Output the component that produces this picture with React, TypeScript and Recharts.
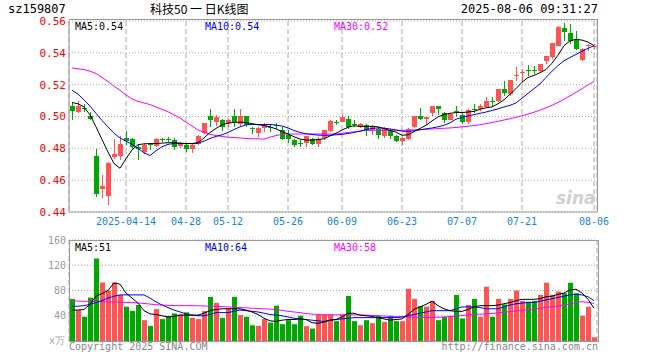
import React from "react";
import { ComposedChart, Bar, Line, XAxis, YAxis, CartesianGrid, Cell } from "recharts";

const RED = "#ff5454";
const GREEN = "#00a800";
const MONO = "'DejaVu Sans Mono', monospace";

const dates = [
  "2025-03-31", "2025-04-01", "2025-04-02", "2025-04-03", "2025-04-07", "2025-04-08", "2025-04-09", "2025-04-10", "2025-04-11",
  "2025-04-14", "2025-04-15", "2025-04-16", "2025-04-17", "2025-04-18", "2025-04-21", "2025-04-22", "2025-04-23", "2025-04-24", "2025-04-25",
  "2025-04-28", "2025-04-29", "2025-04-30", "2025-05-06", "2025-05-07", "2025-05-08", "2025-05-09",
  "2025-05-12", "2025-05-13", "2025-05-14", "2025-05-15", "2025-05-16", "2025-05-19", "2025-05-20", "2025-05-21", "2025-05-22", "2025-05-23",
  "2025-05-26", "2025-05-27", "2025-05-28", "2025-05-29", "2025-05-30", "2025-06-03", "2025-06-04", "2025-06-05", "2025-06-06",
  "2025-06-09", "2025-06-10", "2025-06-11", "2025-06-12", "2025-06-13", "2025-06-16", "2025-06-17", "2025-06-18", "2025-06-19", "2025-06-20",
  "2025-06-23", "2025-06-24", "2025-06-25", "2025-06-26", "2025-06-27", "2025-06-30", "2025-07-01", "2025-07-02", "2025-07-03", "2025-07-04",
  "2025-07-07", "2025-07-08", "2025-07-09", "2025-07-10", "2025-07-11", "2025-07-14", "2025-07-15", "2025-07-16", "2025-07-17", "2025-07-18",
  "2025-07-21", "2025-07-22", "2025-07-23", "2025-07-24", "2025-07-25", "2025-07-28", "2025-07-29", "2025-07-30", "2025-07-31", "2025-08-01",
  "2025-08-04", "2025-08-05", "2025-08-06",
];

const tickDates = [
  "2025-04-14", "2025-04-28", "2025-05-12", "2025-05-26", "2025-06-09",
  "2025-06-23", "2025-07-07", "2025-07-21", "2025-08-06",
];

const opens = [
  0.5063, 0.5031, 0.5055, 0.5005, 0.475, 0.4548, 0.4502, 0.4746, 0.4752, 0.4865,
  0.4856, 0.481, 0.4775, 0.4825, 0.4819, 0.4858, 0.4858, 0.4854, 0.4815, 0.4823,
  0.4794, 0.4825, 0.4895, 0.5002, 0.4965, 0.4981, 0.4958, 0.5002, 0.495, 0.5002,
  0.4928, 0.4896, 0.4925, 0.4931, 0.4944, 0.4917, 0.4881, 0.4854, 0.4832, 0.483,
  0.486, 0.483, 0.486, 0.4908, 0.4967, 0.4971, 0.4985, 0.4952, 0.4935, 0.4944,
  0.4913, 0.4923, 0.4881, 0.4906, 0.4877, 0.4844, 0.486, 0.4933, 0.5002, 0.4981,
  0.5017, 0.5063, 0.5023, 0.4981, 0.5033, 0.5012, 0.4965, 0.505, 0.5048, 0.5063,
  0.5098, 0.51, 0.5173, 0.5138, 0.5254, 0.5275, 0.5294, 0.5292, 0.5283, 0.5344,
  0.5371, 0.5444, 0.5558, 0.5523, 0.5481, 0.536, 0.5446, 0.5442,
];
const highs = [
  0.5086, 0.5098, 0.508, 0.503, 0.4798, 0.4635, 0.4712, 0.486, 0.488, 0.4906,
  0.4865, 0.483, 0.4832, 0.483, 0.4865, 0.4868, 0.487, 0.4862, 0.4842, 0.4833,
  0.4833, 0.4882, 0.496, 0.5046, 0.501, 0.4986, 0.4983, 0.5044, 0.5044, 0.5002,
  0.4935, 0.4931, 0.4958, 0.4956, 0.4958, 0.4933, 0.4913, 0.486, 0.4854, 0.4877,
  0.4867, 0.4873, 0.4917, 0.4979, 0.4979, 0.5017, 0.5006, 0.4981, 0.4958, 0.4954,
  0.4944, 0.4933, 0.4933, 0.4923, 0.4883, 0.4869, 0.4929, 0.5004, 0.5052, 0.5,
  0.5065, 0.5065, 0.5031, 0.5023, 0.5065, 0.5027, 0.5044, 0.5079, 0.5079, 0.5125,
  0.5123, 0.5175, 0.5225, 0.5231, 0.5313, 0.5292, 0.5325, 0.5319, 0.5331, 0.5379,
  0.5462, 0.5567, 0.5585, 0.5579, 0.5538, 0.5429, 0.5456, 0.5454,
];
const lows = [
  0.4981, 0.5023, 0.5027, 0.4978, 0.4496, 0.4489, 0.4444, 0.4735, 0.4725, 0.482,
  0.479, 0.4725, 0.4765, 0.4788, 0.481, 0.4838, 0.484, 0.4792, 0.48, 0.4777,
  0.4771, 0.4822, 0.489, 0.4935, 0.494, 0.4908, 0.4935, 0.4933, 0.4933, 0.4937,
  0.4892, 0.4871, 0.4902, 0.4902, 0.4923, 0.485, 0.4833, 0.4808, 0.4808, 0.4808,
  0.482, 0.4808, 0.4854, 0.4902, 0.4944, 0.4965, 0.4923, 0.4935, 0.4925, 0.4877,
  0.4883, 0.4856, 0.4865, 0.4856, 0.4838, 0.4819, 0.4854, 0.4929, 0.4975, 0.4948,
  0.5006, 0.5012, 0.4961, 0.4975, 0.4996, 0.495, 0.4954, 0.5021, 0.5035, 0.5058,
  0.5067, 0.5094, 0.5131, 0.5131, 0.5225, 0.5215, 0.5256, 0.5267, 0.5277, 0.5329,
  0.5363, 0.544, 0.5475, 0.5454, 0.5419, 0.535, 0.541, 0.5423,
];
const closes = [
  0.5033, 0.5069, 0.505, 0.4985, 0.4513, 0.4565, 0.4708, 0.4763, 0.4825, 0.4846,
  0.4808, 0.48, 0.4822, 0.482, 0.486, 0.4852, 0.4852, 0.4808, 0.4833, 0.4798,
  0.4819, 0.4875, 0.4958, 0.4975, 0.4996, 0.4937, 0.4975, 0.4965, 0.5002, 0.4945,
  0.4923, 0.4929, 0.4944, 0.4927, 0.4938, 0.4858, 0.4856, 0.4825, 0.4828, 0.4875,
  0.483, 0.486, 0.4913, 0.497, 0.4963, 0.5, 0.4935, 0.4948, 0.4954, 0.4913,
  0.4933, 0.4885, 0.4923, 0.4877, 0.4844, 0.4865, 0.4923, 0.5002, 0.4981, 0.4996,
  0.5063, 0.5044, 0.4981, 0.5017, 0.5029, 0.4965, 0.5042, 0.5046, 0.5069, 0.51,
  0.5094, 0.5173, 0.5148, 0.5229, 0.5258, 0.5279, 0.529, 0.5286, 0.5329, 0.5377,
  0.546, 0.5565, 0.5531, 0.5475, 0.5423, 0.5427, 0.545, 0.5446,
];

const ma5 = [
  0.5088, 0.508, 0.506, 0.501, 0.4935, 0.4855, 0.4777, 0.4705, 0.4675, 0.4735,
  0.479, 0.4823, 0.4828, 0.483, 0.483, 0.4833, 0.4835, 0.4835, 0.4833, 0.483,
  0.483, 0.4835, 0.4865, 0.49, 0.4925, 0.4948, 0.4958, 0.4963, 0.4965, 0.4962,
  0.4955, 0.4948, 0.4944, 0.4935, 0.4922, 0.4905, 0.489, 0.4873, 0.4858, 0.4852,
  0.4852, 0.4855, 0.486, 0.4878, 0.4895, 0.4915, 0.4932, 0.4942, 0.4938, 0.4938,
  0.4938, 0.4935, 0.4925, 0.4912, 0.4902, 0.4882, 0.4885, 0.4905, 0.4925, 0.4945,
  0.4972, 0.4998, 0.5012, 0.502, 0.5025, 0.5025, 0.5028, 0.5032, 0.5045, 0.5055,
  0.506, 0.508, 0.5105, 0.514, 0.5175, 0.5215, 0.5245, 0.5258, 0.5275, 0.5295,
  0.5335, 0.5385, 0.5445, 0.5475, 0.5485, 0.548, 0.5468, 0.5445,
];
const ma10 = [
  0.5165, 0.514, 0.5105, 0.5065, 0.502, 0.4975, 0.4935, 0.4895, 0.4865, 0.4845,
  0.4825, 0.48, 0.4772, 0.4755, 0.4785, 0.481, 0.4825, 0.483, 0.483, 0.483,
  0.483, 0.4832, 0.4845, 0.4862, 0.4875, 0.4885, 0.49, 0.4918, 0.4935, 0.4948,
  0.495, 0.495, 0.495, 0.495, 0.4946, 0.494, 0.4928, 0.4912, 0.49, 0.4892,
  0.4887, 0.4883, 0.4882, 0.4882, 0.4885, 0.4888, 0.4893, 0.49, 0.4908, 0.4918,
  0.4925, 0.4928, 0.4926, 0.4922, 0.4915, 0.4908, 0.4906, 0.491, 0.4916, 0.4922,
  0.4928, 0.4935, 0.4945, 0.496, 0.4983, 0.4995, 0.5003, 0.5012, 0.502, 0.5028,
  0.5038, 0.5048, 0.506, 0.507, 0.5085, 0.5115, 0.5145, 0.5175, 0.5205, 0.5245,
  0.5285, 0.532, 0.535, 0.5371, 0.539, 0.541, 0.5428, 0.5445,
];
const ma30 = [
  0.5305, 0.53, 0.5295, 0.5285, 0.527, 0.5245, 0.522, 0.519, 0.5165, 0.5135,
  0.511, 0.5095, 0.5085, 0.5075, 0.506, 0.5045, 0.503, 0.501, 0.499, 0.4965,
  0.494, 0.4915, 0.49, 0.4888, 0.488, 0.4875, 0.487, 0.4868, 0.4865, 0.4862,
  0.486, 0.486, 0.4858, 0.487, 0.488, 0.4888, 0.489, 0.489, 0.489, 0.489,
  0.489, 0.489, 0.489, 0.489, 0.489, 0.4895, 0.49, 0.4903, 0.4908, 0.4912,
  0.4913, 0.4913, 0.4913, 0.4913, 0.4913, 0.4913, 0.4914, 0.4916, 0.4918, 0.492,
  0.4922, 0.4924, 0.4926, 0.4928, 0.4931, 0.4935, 0.4939, 0.4943, 0.4948, 0.4955,
  0.4962, 0.497, 0.4978, 0.4986, 0.4995, 0.5005, 0.5015, 0.5027, 0.504, 0.5055,
  0.507, 0.5088, 0.5108, 0.513, 0.5152, 0.5175, 0.5198, 0.522,
];

// 成交量 (万)
const volumes = [
  66.7, 49, 38.4, 68.8, 130.7, 92.8, 80, 92.8, 73, 54.4,
  47.5, 57, 33, 24, 50.7, 34.7, 39.5, 43.7, 42, 45.3,
  36.8, 34.7, 47.5, 69.9, 60.3, 36.8, 51.7, 69.9, 41, 38.4,
  25, 24, 34.7, 29.3, 56, 26.7, 33, 26.7, 40, 23.5,
  19.7, 41, 42, 42, 31.5, 42, 71.5, 31.5, 25, 33,
  28.3, 40, 30.4, 40, 31.5, 31.5, 82.7, 66.7, 55.5, 54.4,
  63.5, 33, 38.4, 40, 73, 35.7, 57, 66.7, 38.4, 85.9,
  38.4, 66.7, 58, 66.7, 80, 63.5, 62.4, 63.5, 73, 92.3,
  73, 78.4, 75.7, 92.3, 75.7, 40, 54.4, 5.9,
];
const volMa5 = [
  49, 49, 50, 58, 71, 75, 80, 92, 90, 76,
  68, 60, 48, 43, 42, 40, 38, 39, 41, 41,
  41, 41, 44, 48, 50, 51, 51, 51, 51, 49,
  46, 42, 36, 32, 31, 33, 34, 34, 35, 34,
  29, 28, 30, 33, 34, 38, 44, 44, 41, 40,
  39, 37, 35, 33, 34, 35, 42, 50, 54, 58,
  63, 56, 51, 48, 47, 47, 50, 54, 56, 56,
  56, 57, 59, 61, 64, 66, 66, 66, 67, 70,
  71, 74, 76, 81, 82, 76, 66, 52,
];
const volMa10 = [
  55, 55, 56, 58, 61, 64, 68, 71, 73, 73,
  73, 73, 73, 68, 62, 57, 53, 49, 46, 43,
  41, 40, 40, 42, 45, 45, 45, 47, 49, 48,
  47, 46, 44, 42, 41, 40, 38, 36, 35, 34,
  33, 32, 31, 33, 34, 35, 36, 37, 37, 37,
  37, 37, 37, 37, 37, 38, 40, 42, 44, 46,
  48, 48, 48, 48, 51, 54, 54, 54, 53, 51,
  51, 51, 54, 57, 59, 60, 61, 61, 63, 65,
  67, 69, 71, 73, 74, 73, 70, 64,
];
const volMa30 = [
  63.5, 63.3, 63, 62.8, 62.5, 62.3, 62, 61.8, 61.5, 61.2,
  60.8, 60.2, 59.5, 58.5, 57.5, 57, 56.5, 56.2, 56, 56,
  56, 55.8, 55.5, 55.2, 54.8, 54.4, 54, 53.5, 53, 52.5,
  52, 51.5, 51, 50.5, 49.5, 48.5, 47, 46, 45, 43.5,
  42.5, 42, 41.5, 41.5, 41.5, 41.5, 41.5, 41.5, 41.2, 41,
  40.5, 40, 39.5, 39, 38.6, 38.3, 38, 37.5, 37.3, 37.3,
  37.3, 37.5, 38, 38.7, 39.5, 40.5, 41.5, 42, 42.5, 43,
  43.7, 44.5, 45.5, 46.5, 47.5, 48.5, 49.5, 50.7, 52, 53.3,
  54.4, 55.5, 57, 58.5, 60.5, 62.4, 61, 59.7,
];

const priceTicks = [0.44, 0.46, 0.48, 0.5, 0.52, 0.54, 0.56];
const volTicks = [40, 80, 120, 160];

const data = dates.map((date, i) => ({
  date,
  open: opens[i],
  high: highs[i],
  low: lows[i],
  close: closes[i],
  ma5: ma5[i],
  ma10: ma10[i],
  ma30: ma30[i],
  vol: volumes[i],
  vma5: volMa5[i],
  vma10: volMa10[i],
  vma30: volMa30[i],
}));

function Candle(props: any) {
  let { x, y, width, height, payload } = props;
  if (height < 0) {
    y = y + height;
    height = -height;
  }
  const { open, close, high, low } = payload;
  const color = close >= open ? RED : GREEN;
  const span = high - low || 1e-9;
  const py = (v: number) => y + ((high - v) / span) * height;
  const top = py(Math.max(open, close));
  const bot = py(Math.min(open, close));
  const left = Math.round(x);
  const w = Math.round(width);
  const cx = left + Math.floor(w / 2) + 0.5;
  return (
    <g shapeRendering="crispEdges">
      <line x1={cx} x2={cx} y1={y} y2={y + height} stroke={color} strokeWidth={1} />
      <rect x={left} y={Math.round(top)} width={w} height={Math.max(1, Math.round(bot - top))} fill={color} />
    </g>
  );
}

const fmtDate = (v: string, idx: number) => (idx === 0 ? v : v.slice(5));

const txt = (extra: React.CSSProperties): React.CSSProperties => ({
  position: "absolute",
  fontFamily: MONO,
  whiteSpace: "nowrap",
  lineHeight: "12px",
  ...extra,
});

export default function App() {
  return (
    <div style={{ position: "relative", width: 660, height: 360, background: "#fff", overflow: "hidden" }}>
      <style>{"body{margin:0}"}</style>

      <div style={{ position: "absolute", left: 0, top: 0 }}>
        <ComposedChart width={660} height={232} data={data} margin={{ top: 21, right: 63, bottom: 0, left: 0 }}>
          <CartesianGrid horizontal vertical={false} stroke="#aaa" strokeDasharray="1 2" />
          <CartesianGrid horizontal={false} vertical stroke="#aaa" strokeDasharray="5 3" />
          <XAxis
            dataKey="date"
            ticks={tickDates}
            interval={0}
            tickFormatter={fmtDate}
            tickLine={false}
            tickSize={0}
            tickMargin={6}
            height={20}
            axisLine={{ stroke: "#999" }}
            tick={{ fill: "#1a86d8", fontSize: 10, fontFamily: MONO }}
          />
          <YAxis
            domain={[0.44, 0.56]}
            ticks={priceTicks}
            allowDataOverflow
            tickFormatter={(v: number) => v.toFixed(2)}
            width={69}
            tickLine={false}
            tickSize={0}
            tickMargin={3}
            axisLine={{ stroke: "#999" }}
            tick={{ fill: "#ff0000", fontSize: 11, fontFamily: MONO }}
          />
          <Bar dataKey={(d: any) => [d.low, d.high]} barSize={5} shape={<Candle />} isAnimationActive={false} />
          <Line dataKey="ma30" stroke="#ff00ff" strokeWidth={1} dot={false} isAnimationActive={false} />
          <Line dataKey="ma10" stroke="#0000ff" strokeWidth={1} dot={false} isAnimationActive={false} />
          <Line dataKey="ma5" stroke="#000000" strokeWidth={1} dot={false} isAnimationActive={false} />
        </ComposedChart>
      </div>

      <div style={{ position: "absolute", left: 0, top: 220 }}>
        <ComposedChart width={660} height={121} data={data} margin={{ top: 20, right: 63, bottom: 0, left: 0 }}>
          <CartesianGrid horizontal vertical={false} stroke="#aaa" strokeDasharray="1 2" />
          <CartesianGrid horizontal={false} vertical stroke="#aaa" strokeDasharray="5 3" />
          <XAxis dataKey="date" ticks={tickDates} interval={0} height={0} tick={false} tickLine={false} axisLine={false} />
          <YAxis
            domain={[0, 160]}
            ticks={volTicks}
            allowDataOverflow
            width={69}
            tickLine={false}
            tickSize={0}
            tickMargin={3}
            axisLine={false}
            tick={{ fill: "#999", fontSize: 10, fontFamily: MONO }}
          />
          <Bar dataKey="vol" barSize={5} isAnimationActive={false}>
            {data.map((d, i) => (
              <Cell key={i} fill={d.close >= d.open ? RED : GREEN} />
            ))}
          </Bar>
          <Line dataKey="vma30" stroke="#ff00ff" strokeWidth={1} dot={false} isAnimationActive={false} />
          <Line dataKey="vma10" stroke="#0000ff" strokeWidth={1} dot={false} isAnimationActive={false} />
          <Line dataKey="vma5" stroke="#000000" strokeWidth={1} dot={false} isAnimationActive={false} />
        </ComposedChart>
      </div>

      {/* frames */}
      <div style={{ position: "absolute", left: 69, top: 19, width: 529, height: 193, borderTop: "1px solid #999", borderRight: "1px solid #999", boxSizing: "border-box" }} />
      <div style={{ position: "absolute", left: 69, top: 240, width: 530, height: 102, border: "1px solid #999", boxSizing: "border-box" }} />

      {/* header */}
      <div style={txt({ left: 8, top: 3, fontSize: 12 })}>sz159807</div>
      <div style={txt({ left: 150, top: 3, fontSize: 12, fontFamily: "'Noto Sans CJK SC', sans-serif" })}>科技50 一 日K线图</div>
      <div style={txt({ right: 62, top: 3, fontSize: 12 })}>2025-08-06 09:31:27</div>

      {/* price legends */}
      <div style={txt({ left: 75, top: 21, fontSize: 10, color: "#000" })}>MA5:0.54</div>
      <div style={txt({ left: 205, top: 21, fontSize: 10, color: "#0000ff" })}>MA10:0.54</div>
      <div style={txt({ left: 334, top: 21, fontSize: 10, color: "#ff00ff" })}>MA30:0.52</div>

      {/* volume legends */}
      <div style={txt({ left: 75, top: 242, fontSize: 10, color: "#000" })}>MA5:51</div>
      <div style={txt({ left: 205, top: 242, fontSize: 10, color: "#0000ff" })}>MA10:64</div>
      <div style={txt({ left: 334, top: 242, fontSize: 10, color: "#ff00ff" })}>MA30:58</div>

      <div style={txt({ right: 595, top: 335, fontSize: 10, color: "#aaa" })}>x万</div>
      <div style={txt({ left: 69, top: 341, fontSize: 10, color: "#888" })}>Copyright 2025 SINA.COM</div>
      <div style={txt({ right: 62, top: 341, fontSize: 10, color: "#888" })}>http://finance.sina.com.cn</div>

      {/* watermark */}
      <div style={txt({ left: 556, top: 190, fontSize: 17, fontWeight: "bold", fontStyle: "italic", color: "#d0d0d0", fontFamily: "'DejaVu Sans', sans-serif", lineHeight: "17px" })}>sina</div>
    </div>
  );
}
